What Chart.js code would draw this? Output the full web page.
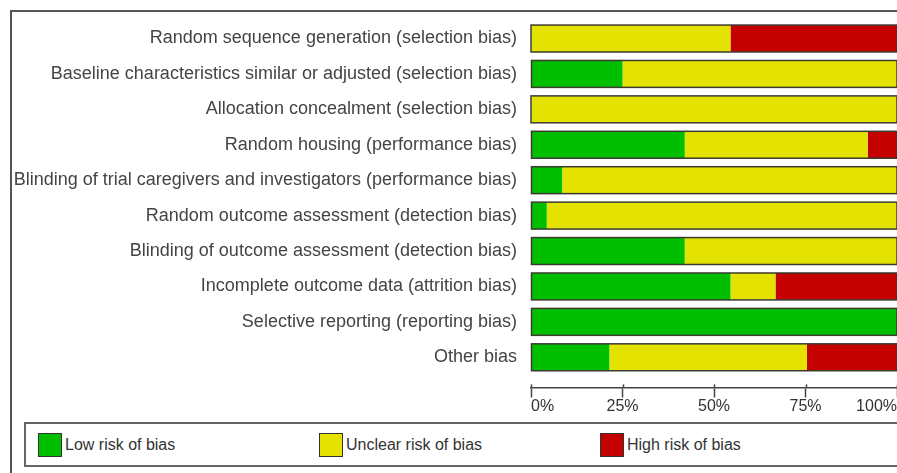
<!DOCTYPE html>
<html>
<head>
<meta charset="utf-8">
<script src="https://cdn.jsdelivr.net/npm/chart.js@4.4.1/dist/chart.umd.min.js"></script>
<style>
  html, body { margin: 0; padding: 0; background: #fff; overflow: hidden; }
  #wrap { position: relative; width: 897px; height: 473px; overflow: hidden; }
  #frame { position: absolute; left: 10px; top: 10px; width: 900px; height: 480px;
    border-left: 2px solid #555; border-top: 2px solid #555; box-sizing: border-box; }
  #biasChart { position: absolute; left: 0; top: -4px; }
  #legend { position: absolute; left: 24px; top: 422px; width: 900px; height: 45px;
    border: 2px solid #666; box-sizing: border-box; display: flex; align-items: center;
    padding-left: 12px; font-family: "Liberation Sans", Arial, sans-serif; font-size: 16px; color: #333; }
  .item { width: 281px; display: flex; align-items: center; }
  .swatch { width: 22px; height: 22px; border: 1.5px solid #333; margin-right: 3px; }
</style>
</head>
<body>
<div id="wrap">
  <div id="frame"></div>
  <canvas id="biasChart" width="898" height="420"></canvas>
  <div id="legend"></div>
</div>
<script>
// Domains (top to bottom)
const categories = [
  "Random sequence generation (selection bias)",
  "Baseline characteristics similar or adjusted (selection bias)",
  "Allocation concealment (selection bias)",
  "Random housing (performance bias)",
  "Blinding of trial caregivers and investigators (performance bias)",
  "Random outcome assessment (detection bias)",
  "Blinding of outcome assessment (detection bias)",
  "Incomplete outcome data (attrition bias)",
  "Selective reporting (reporting bias)",
  "Other bias",
];

// Percentages
const lowRisk     = [0,    25, 0,   42, 8.5,  4.3,  42, 54.5, 100, 21.4];
const unclearRisk = [54.5, 75, 100, 50, 91.5, 95.7, 58, 12.3, 0,   54];
const highRisk    = [45.5, 0,  0,   8,  0,    0,    0,  33.2, 0,   24.6];

const seriesNames = ["Low risk of bias", "Unclear risk of bias", "High risk of bias"];
const tickValues = [0, 25, 50, 75, 100];
const tickLabels = ["0%", "25%", "50%", "75%", "100%"];

const fontFamily = "'Liberation Sans', Arial, sans-serif";
const axisAt = 9.85; // x axis sits a little below the last bar

// draws one outline round each whole stacked bar + little tick stubs above the axis
const barOutline = {
  id: "barOutline",
  afterDatasetsDraw(chart) {
    const ctx = chart.ctx;
    const metas = chart.getSortedVisibleDatasetMetas();
    ctx.save();
    ctx.strokeStyle = "#3b3b30";
    ctx.lineWidth = 1.5;
    categories.forEach((c, i) => {
      let left = Infinity, right = -Infinity, top = 0, h = 0;
      metas.forEach((m) => {
        const el = m.data[i];
        left = Math.min(left, el.base, el.x);
        right = Math.max(right, el.base, el.x);
        top = el.y - el.height / 2;
        h = el.height;
      });
      ctx.strokeRect(left, top, right - left, h);
    });
    ctx.restore();
  },
  afterDraw(chart) {
    const x = chart.scales.x;
    const axisY = chart.scales.y.getPixelForValue(axisAt);
    const ctx = chart.ctx;
    ctx.save();
    ctx.strokeStyle = "#444";
    ctx.lineWidth = 1.5;
    x.ticks.forEach((t) => {
      const px = Math.round(x.getPixelForValue(t.value)) + 0.5;
      ctx.beginPath();
      ctx.moveTo(px, axisY - 3);
      ctx.lineTo(px, axisY);
      ctx.stroke();
    });
    ctx.restore();
  },
};

const ctx = document.getElementById("biasChart").getContext("2d");
const chart = new Chart(ctx, {
  type: "bar",
  data: {
    labels: categories,
    datasets: [
      { label: seriesNames[0], data: lowRisk, backgroundColor: "#00BE00" },
      { label: seriesNames[1], data: unclearRisk, backgroundColor: "#E4E200" },
      { label: seriesNames[2], data: highRisk, backgroundColor: "#C40000" },
    ],
  },
  options: {
    indexAxis: "y",
    responsive: false,
    animation: false,
    datasets: {
      bar: { categoryPercentage: 1, barPercentage: 0.76, borderWidth: 0 },
    },
    layout: { padding: { top: 16, bottom: 41, left: 0, right: 0 } },
    plugins: {
      legend: { display: false },
      tooltip: { enabled: false },
    },
    scales: {
      x: {
        stacked: true,
        min: 0,
        max: 100,
        position: { y: axisAt },
        ticks: {
          stepSize: 25,
          align: "inner",
          padding: 1,
          color: "#333",
          font: { family: fontFamily, size: 16 },
          callback: function (value) {
            return tickLabels[tickValues.indexOf(value)];
          },
        },
        grid: { drawOnChartArea: false, tickLength: 9, tickWidth: 1.5, color: "#444" },
        border: { color: "#444", width: 1.5 },
      },
      y: {
        stacked: true,
        ticks: {
          padding: 14,
          color: "#444",
          autoSkip: false,
          font: { family: fontFamily, size: 18 },
        },
        grid: { display: false, drawTicks: false },
        border: { display: false },
        afterFit: function (scale) {
          scale.width = 531;
        },
      },
    },
  },
  plugins: [barOutline],
});

// legend built from the chart's own datasets
const legendEl = document.getElementById("legend");
chart.data.datasets.forEach((ds) => {
  const item = document.createElement("div");
  item.className = "item";
  const sw = document.createElement("div");
  sw.className = "swatch";
  sw.style.background = ds.backgroundColor;
  const txt = document.createElement("span");
  txt.textContent = ds.label;
  item.appendChild(sw);
  item.appendChild(txt);
  legendEl.appendChild(item);
});
</script>
</body>
</html>
